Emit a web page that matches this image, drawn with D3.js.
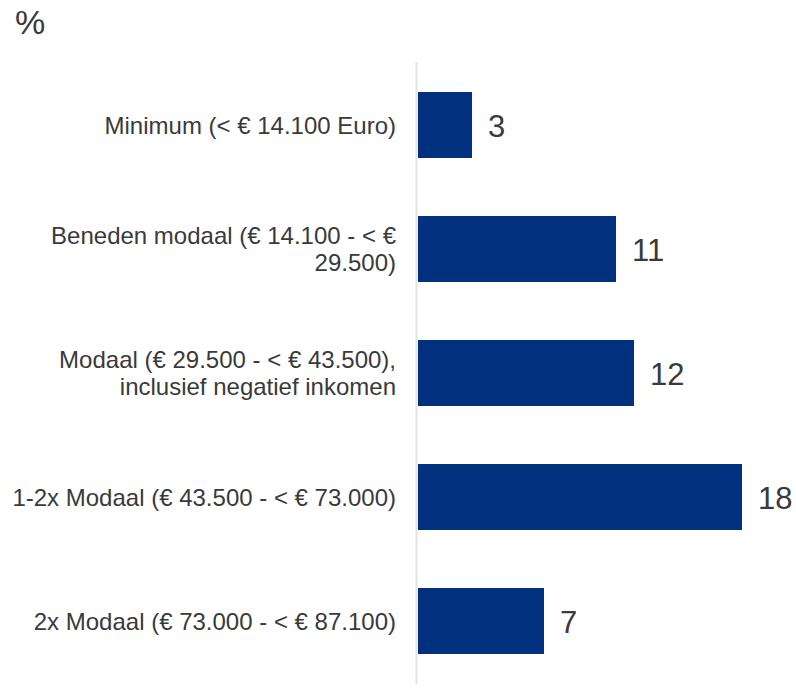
<!DOCTYPE html>
<html>
<head>
<meta charset="utf-8">
<script src="https://cdn.jsdelivr.net/npm/d3@7"></script>
<style>
  body { margin: 0; background: #fff; }
  text { font-family: "Liberation Sans", Arial, sans-serif; fill: #3a3a3a; }
</style>
</head>
<body>
<script>
var width = 796, height = 691;

var categories = [
  ["Minimum (< € 14.100 Euro)"],
  ["Beneden modaal (€ 14.100 - < €", "29.500)"],
  ["Modaal (€ 29.500 - < € 43.500),", "inclusief negatief inkomen"],
  ["1-2x Modaal (€ 43.500 - < € 73.000)"],
  ["2x Modaal (€ 73.000 - < € 87.100)"]
];
var values = [3, 11, 12, 18, 7];
var unitLabel = "%";

var svg = d3.select("body")
    .append("svg")
    .attr("width", width)
    .attr("height", height);

var x = d3.scaleLinear().domain([0, 18]).range([418, 742]);
var y = d3.scaleBand()
    .domain(d3.range(values.length))
    .range([63, 683])
    .paddingInner(0.468)
    .paddingOuter(0.234);

svg.append("text")
    .attr("x", 15)
    .attr("y", 34)
    .style("font-size", "34px")
    .text(unitLabel);

// axis line
svg.append("line")
    .attr("x1", 416.5).attr("x2", 416.5)
    .attr("y1", 62).attr("y2", 684)
    .attr("stroke", "#e3e3e3")
    .attr("stroke-width", 2);

svg.selectAll("rect.bar")
    .data(values)
  .enter().append("rect")
    .attr("class", "bar")
    .attr("x", x(0))
    .attr("y", function(d, i) { return y(i); })
    .attr("width", function(d) { return x(d) - x(0); })
    .attr("height", y.bandwidth())
    .attr("fill", "#00307e");

svg.selectAll("text.val")
    .data(values)
  .enter().append("text")
    .attr("class", "val")
    .attr("x", function(d) { return x(d) + 16; })
    .attr("y", function(d, i) { return y(i) + y.bandwidth() / 2 + 11.5; })
    .style("font-size", "31px")
    .text(function(d) { return d; });

var lab = svg.selectAll("text.cat")
    .data(categories)
  .enter().append("text")
    .attr("class", "cat")
    .attr("text-anchor", "end")
    .style("font-size", "24px")
    .attr("y", function(d, i) { return y(i) + y.bandwidth() / 2 + 8.5 - (d.length - 1) * 13.5; });

lab.selectAll("tspan")
    .data(function(d) { return d; })
  .enter().append("tspan")
    .attr("x", 396)
    .attr("dy", function(d, i) { return i ? 27 : 0; })
    .text(function(d) { return d; });
</script>
</body>
</html>
